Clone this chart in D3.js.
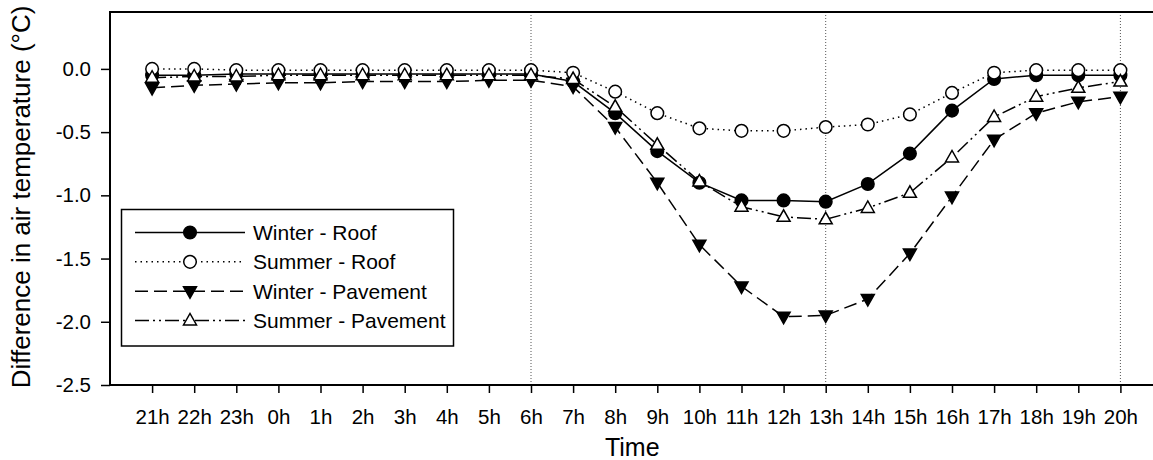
<!DOCTYPE html>
<html>
<head>
<meta charset="utf-8">
<script src="https://cdn.jsdelivr.net/npm/d3@7"></script>
<style>
  html, body { margin: 0; padding: 0; background: #fff; }
  svg { display: block; font-family: "Liberation Sans", Arial, sans-serif; }
</style>
</head>
<body>
<div id="chart"></div>
<script>
const WIDTH = 1153;
const HEIGHT = 460;
const PLOT = { left: 110, top: 12, bottom: 385, right: 1162.5 };

const hours = ['21h', '22h', '23h', '0h', '1h', '2h', '3h', '4h', '5h', '6h', '7h', '8h',
               '9h', '10h', '11h', '12h', '13h', '14h', '15h', '16h', '17h', '18h', '19h', '20h'];
const yTicks = [0, -0.5, -1, -1.5, -2, -2.5];
const refHours = ['6h', '13h', '20h'];

const winterRoof = [-0.05, -0.05, -0.04, -0.04, -0.04, -0.04, -0.04, -0.04, -0.04, -0.04, -0.10, -0.35,
                    -0.65, -0.90, -1.04, -1.04, -1.05, -0.91, -0.67, -0.33, -0.08, -0.05, -0.05, -0.05];
const summerRoof = [0.0, 0.0, -0.01, -0.01, -0.01, -0.01, -0.01, -0.01, -0.01, -0.01, -0.03, -0.18,
                    -0.35, -0.47, -0.49, -0.49, -0.46, -0.44, -0.36, -0.19, -0.03, -0.01, -0.01, -0.01];
const winterPavement = [-0.15, -0.13, -0.12, -0.11, -0.11, -0.10, -0.10, -0.10, -0.09, -0.09, -0.14, -0.46,
                        -0.90, -1.39, -1.72, -1.96, -1.95, -1.82, -1.46, -1.01, -0.56, -0.35, -0.26, -0.22];
const summerPavement = [-0.07, -0.06, -0.06, -0.05, -0.05, -0.05, -0.05, -0.05, -0.05, -0.05, -0.08, -0.30,
                        -0.60, -0.89, -1.09, -1.17, -1.19, -1.10, -0.98, -0.70, -0.38, -0.22, -0.15, -0.10];

const seriesNames = ['Winter - Roof', 'Summer - Roof', 'Winter - Pavement', 'Summer - Pavement'];

// line + marker style per series
const styles = [
  { values: winterRoof, dash: null, marker: 'circle', fill: '#000' },
  { values: summerRoof, dash: '1.5,4', marker: 'circle', fill: '#fff' },
  { values: winterPavement, dash: '13,6', marker: 'tri-down', fill: '#000' },
  { values: summerPavement, dash: '14,4,2,4,2,4', marker: 'tri-up', fill: '#fff' },
];

const svg = d3.select('#chart').append('svg')
  .attr('width', WIDTH)
  .attr('height', HEIGHT);

const x = d3.scaleLinear().domain([-1, 24]).range([PLOT.left, PLOT.right]);
const y = d3.scaleLinear().domain([0.45, -2.5]).range([PLOT.top, PLOT.bottom]);

// dotted reference lines
svg.append('g')
  .selectAll('line')
  .data(refHours)
  .enter().append('line')
  .attr('x1', (d) => x(hours.indexOf(d)))
  .attr('x2', (d) => x(hours.indexOf(d)))
  .attr('y1', PLOT.top)
  .attr('y2', PLOT.bottom)
  .attr('stroke', '#555')
  .attr('stroke-width', 1)
  .attr('stroke-dasharray', '1,2');

// axes
const xAxis = svg.append('g')
  .attr('transform', `translate(0,${PLOT.bottom})`)
  .call(d3.axisBottom(x)
    .tickValues(d3.range(hours.length))
    .tickFormat((i) => hours[i])
    .tickSize(8)
    .tickPadding(16));

const yAxis = svg.append('g')
  .attr('transform', `translate(${PLOT.left},0)`)
  .call(d3.axisLeft(y)
    .tickValues(yTicks)
    .tickFormat(d3.format('.1f'))
    .tickSize(9)
    .tickPadding(10));

[xAxis, yAxis].forEach((a) => {
  a.select('.domain').remove();
  a.selectAll('.tick line').attr('stroke', '#000').attr('stroke-width', 1.5);
  a.selectAll('.tick text').attr('fill', '#000').attr('font-size', 20.5)
    .attr('font-family', '"Liberation Sans", Arial, sans-serif');
});
yAxis.selectAll('.tick text').text((d) => d3.format('.1f')(d).replace('−', '-'));

// frame
svg.append('path')
  .attr('d', `M${PLOT.left},${PLOT.top}H${PLOT.right}V${PLOT.bottom}H${PLOT.left}Z`)
  .attr('fill', 'none')
  .attr('stroke', '#000')
  .attr('stroke-width', 2);

function drawMarker(g, type, fill) {
  if (type === 'circle') {
    g.append('circle').attr('r', 6.3).attr('fill', fill)
      .attr('stroke', '#000').attr('stroke-width', 1.5);
  } else {
    const s = type === 'tri-up' ? -1 : 1;
    g.append('path')
      .attr('d', `M-6.5,${-4.5 * s}L6.5,${-4.5 * s}L0,${7 * s}Z`)
      .attr('fill', fill).attr('stroke', '#000').attr('stroke-width', 1.5)
      .attr('stroke-linejoin', 'miter');
  }
}

const line = d3.line().x((d, i) => x(i)).y((d) => y(d));

styles.forEach((s) => {
  svg.append('path')
    .datum(s.values)
    .attr('d', line)
    .attr('fill', 'none')
    .attr('stroke', '#000')
    .attr('stroke-width', 1.5)
    .attr('stroke-dasharray', s.dash);
});
styles.forEach((s) => {
  s.values.forEach((v, i) => {
    const g = svg.append('g').attr('transform', `translate(${x(i)},${y(v)})`);
    drawMarker(g, s.marker, s.fill);
  });
});

// axis titles
svg.append('text')
  .attr('x', (PLOT.left + PLOT.right) / 2 - 4)
  .attr('y', 456)
  .attr('text-anchor', 'middle')
  .attr('font-size', 25)
  .text('Time');

svg.append('text')
  .attr('transform', 'translate(30,197) rotate(-90)')
  .attr('text-anchor', 'middle')
  .attr('font-size', 26)
  .text('Difference in air temperature (°C)');

// legend
const legend = svg.append('g');
legend.append('rect')
  .attr('x', 121.5).attr('y', 209.5)
  .attr('width', 332).attr('height', 136.5)
  .attr('fill', '#fff').attr('stroke', '#000').attr('stroke-width', 1.5);

const rowY = d3.scaleLinear().domain([0, 3]).range([232.5, 320.5]);
styles.forEach((s, i) => {
  const ry = rowY(i);
  legend.append('line')
    .attr('x1', 135).attr('x2', 245).attr('y1', ry).attr('y2', ry)
    .attr('stroke', '#000').attr('stroke-width', 1.5)
    .attr('stroke-dasharray', s.dash);
  const g = legend.append('g').attr('transform', `translate(190,${ry})`);
  drawMarker(g, s.marker, s.fill);
  legend.append('text')
    .attr('x', 253).attr('y', ry + 7.5)
    .attr('font-size', 21)
    .text(seriesNames[i]);
});
</script>
</body>
</html>
